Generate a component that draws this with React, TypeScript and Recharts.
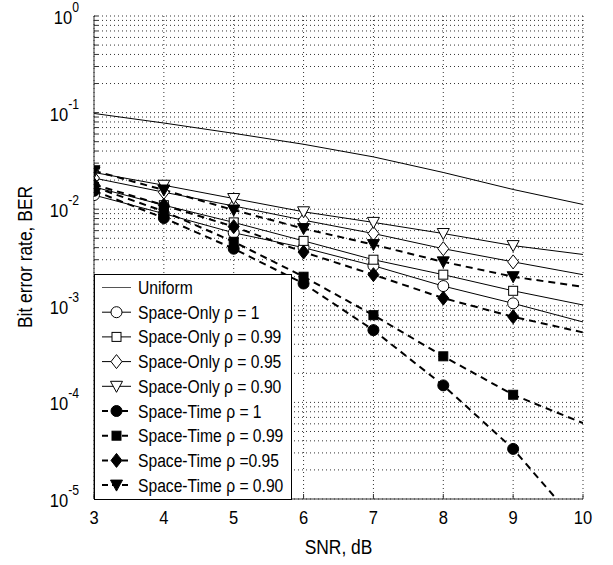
import { LineChart, Line, XAxis, YAxis, CartesianGrid, Label } from 'recharts'
import type { ReactNode } from 'react'

const FONT = "'Liberation Sans', Arial, sans-serif"
const SQUEEZE = 0.87

const snr = [3, 4, 5, 6, 7, 8, 9, 10]
const uniform = [0.098, 0.078, 0.061, 0.047, 0.0348, 0.024, 0.016, 0.0112]
const soRho1 = [0.014, 0.009, 0.0057, 0.004, 0.0026, 0.0016, 0.00106, 0.00068]
const soRho099 = [0.017, 0.011, 0.0073, 0.0047, 0.003, 0.0021, 0.00143, 0.00102]
const soRho095 = [0.021, 0.015, 0.0108, 0.0077, 0.0056, 0.0039, 0.00285, 0.0021]
const soRho090 = [0.024, 0.0177, 0.0129, 0.0094, 0.0073, 0.0056, 0.0042, 0.0034]
const stRho1 = [0.0155, 0.0081, 0.0039, 0.0017, 0.00056, 0.00015, 0.000033, 0.0000048]
const stRho099 = [0.017, 0.0095, 0.0046, 0.002, 0.0008, 0.0003, 0.00012, 0.000061]
const stRho095 = [0.018, 0.011, 0.0066, 0.0036, 0.0021, 0.0012, 0.00077, 0.00053]
const stRho090 = [0.025, 0.0158, 0.0098, 0.0063, 0.0043, 0.00285, 0.002, 0.00157]

const decades = [1e-5, 1e-4, 1e-3, 1e-2, 1e-1]
const mantissas = [1, 2, 3, 4, 5, 6, 7, 8, 9]
const yTicks = [...decades.flatMap((d) => mantissas.map((m) => +(m * d).toPrecision(3))), 1]

type Marker = 'none' | 'circle' | 'square' | 'diamond' | 'triangle'

interface SeriesDef {
  key: string
  name: string
  values: number[]
  marker: Marker
  filled: boolean
  dashed: boolean
}

const series: SeriesDef[] = [
  { key: 'uniform', name: 'Uniform', values: uniform, marker: 'none', filled: false, dashed: false },
  { key: 'so1', name: 'Space-Only ρ = 1', values: soRho1, marker: 'circle', filled: false, dashed: false },
  { key: 'so099', name: 'Space-Only ρ = 0.99', values: soRho099, marker: 'square', filled: false, dashed: false },
  { key: 'so095', name: 'Space-Only ρ = 0.95', values: soRho095, marker: 'diamond', filled: false, dashed: false },
  { key: 'so090', name: 'Space-Only ρ = 0.90', values: soRho090, marker: 'triangle', filled: false, dashed: false },
  { key: 'st1', name: 'Space-Time ρ = 1', values: stRho1, marker: 'circle', filled: true, dashed: true },
  { key: 'st099', name: 'Space-Time ρ = 0.99', values: stRho099, marker: 'square', filled: true, dashed: true },
  { key: 'st095', name: 'Space-Time ρ =0.95', values: stRho095, marker: 'diamond', filled: true, dashed: true },
  { key: 'st090', name: 'Space-Time ρ = 0.90', values: stRho090, marker: 'triangle', filled: true, dashed: true },
]

const data = snr.map((x, i) => {
  const row: Record<string, number> = { snr: x }
  series.forEach((s) => {
    row[s.key] = s.values[i]
  })
  return row
})

// the original uses a narrow Helvetica; squeeze Liberation Sans horizontally
function NarrowText({
  x,
  y,
  size,
  anchor = 'start',
  rotate = 0,
  children,
}: {
  x: number
  y: number
  size: number
  anchor?: 'start' | 'middle' | 'end'
  rotate?: number
  children: ReactNode
}) {
  return (
    <text
      transform={`translate(${x},${y}) rotate(${rotate}) scale(${SQUEEZE},1)`}
      x={0}
      y={0}
      textAnchor={anchor}
      fontSize={size}
      fontFamily={FONT}
      fill="#000"
    >
      {children}
    </text>
  )
}

// marker glyph centred on (cx, cy)
function MarkerShape({ type, filled, cx, cy }: { type: Marker; filled: boolean; cx: number; cy: number }) {
  const fill = filled ? '#000' : '#fff'
  const common = { fill, stroke: '#000', strokeWidth: 1 }
  if (type === 'circle') return <circle cx={cx} cy={cy} r={5.5} {...common} />
  if (type === 'square') return <rect x={cx - 4.5} y={cy - 4.5} width={9} height={9} {...common} />
  if (type === 'diamond')
    return <polygon points={`${cx},${cy - 7} ${cx + 5.5},${cy} ${cx},${cy + 7} ${cx - 5.5},${cy}`} {...common} />
  if (type === 'triangle')
    return <polygon points={`${cx - 6},${cy - 5} ${cx + 6},${cy - 5} ${cx},${cy + 6}`} {...common} />
  return null
}

const makeDot = (s: SeriesDef) => (props: any) => {
  const { cx, cy, payload, index } = props
  if (s.marker === 'none' || payload.snr === 10 || cx == null || cy == null) return <g key={`${s.key}-${index}`} />
  return (
    <g key={`${s.key}-${index}`}>
      <MarkerShape type={s.marker} filled={s.filled} cx={cx} cy={cy} />
    </g>
  )
}

const isDecade = (v: number) => Math.abs(Math.log10(v) - Math.round(Math.log10(v))) < 1e-6

const YTick = (props: any) => {
  const { x, y, payload } = props
  if (!isDecade(payload.value)) return <g />
  const exp = Math.round(Math.log10(payload.value))
  return (
    <NarrowText x={x} y={y + 8} size={19} anchor="end">
      10
      <tspan dy={-12} fontSize={14}>
        {exp}
      </tspan>
    </NarrowText>
  )
}

const XTick = (props: any) => {
  const { x, y, payload } = props
  return (
    <NarrowText x={x} y={y + 13} size={19} anchor="middle">
      {payload.value}
    </NarrowText>
  )
}

function LegendBox() {
  const rowY = (i: number) => 12.5 + i * 24.7
  return (
    <div
      style={{
        position: 'absolute',
        left: 94,
        top: 274,
        width: 198,
        height: 226,
        boxSizing: 'border-box',
        border: '1px solid #000',
        background: '#fff',
      }}
    >
      <svg width={196} height={224} style={{ display: 'block' }}>
        {series.map((s, i) => (
          <g key={s.key}>
            <line
              x1={7}
              x2={36}
              y1={rowY(i)}
              y2={rowY(i)}
              stroke={s.key === 'uniform' ? '#555' : '#000'}
              strokeWidth={s.dashed ? 2 : 1}
              strokeDasharray={s.dashed ? '6 4' : undefined}
            />
            <MarkerShape type={s.marker} filled={s.filled} cx={21.5} cy={rowY(i)} />
            <NarrowText x={43} y={rowY(i) + 6.5} size={18}>
              {s.name}
            </NarrowText>
          </g>
        ))}
      </svg>
    </div>
  )
}

export default function App() {
  return (
    <div style={{ position: 'absolute', left: 0, top: 0, width: 613, height: 565, background: '#fff' }}>
      <LineChart width={613} height={565} data={data} margin={{ top: 16, right: 30, bottom: 36, left: 14 }}>
        <CartesianGrid stroke="#000" strokeDasharray="1 3" strokeOpacity={0.8} />
        <XAxis
          dataKey="snr"
          type="number"
          domain={[3, 10]}
          ticks={snr}
          allowDataOverflow
          height={30}
          tickSize={-5}
          tickMargin={17}
          stroke="#333"
          tick={<XTick />}
        >
          <Label
            content={(p: any) => (
              <NarrowText x={p.viewBox.x + p.viewBox.width / 2} y={p.viewBox.y + 55} size={20} anchor="middle">
                SNR, dB
              </NarrowText>
            )}
          />
        </XAxis>
        <XAxis
          xAxisId="top"
          orientation="top"
          type="number"
          domain={[3, 10]}
          ticks={snr}
          allowDataOverflow
          height={0}
          tickSize={-5}
          stroke="#333"
          tickFormatter={() => ''}
        />
        <YAxis
          scale="log"
          domain={[1e-5, 1]}
          ticks={yTicks}
          allowDataOverflow
          width={80}
          tickSize={-4}
          tickMargin={19}
          stroke="#333"
          interval={0}
          tick={<YTick />}
        >
          <Label
            content={() => (
              <NarrowText x={32} y={257} size={20} anchor="middle" rotate={-90}>
                Bit error rate, BER
              </NarrowText>
            )}
          />
        </YAxis>
        <YAxis
          yAxisId="right"
          orientation="right"
          scale="log"
          domain={[1e-5, 1]}
          ticks={yTicks}
          allowDataOverflow
          width={0}
          tickSize={-4}
          interval={0}
          stroke="#333"
          tickFormatter={() => ''}
        />
        {series.map((s) => (
          <Line
            key={s.key}
            dataKey={s.key}
            name={s.name}
            type="linear"
            stroke="#000"
            strokeWidth={s.dashed ? 2 : 1}
            strokeDasharray={s.dashed ? '7 5' : undefined}
            dot={makeDot(s)}
            activeDot={false}
            isAnimationActive={false}
          />
        ))}
      </LineChart>
      <LegendBox />
    </div>
  )
}
